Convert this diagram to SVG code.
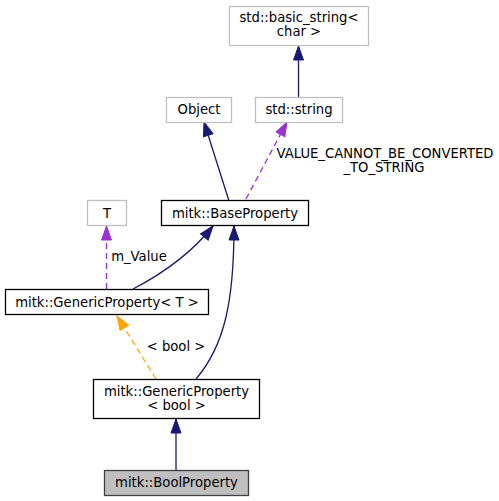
<svg xmlns="http://www.w3.org/2000/svg" width="499" height="501" viewBox="0 0 499 501">
<style>
text{font-family:"DejaVu Sans","Liberation Sans",sans-serif;font-size:13.2px;fill:#000;text-anchor:middle}
.ext rect{fill:#fff;stroke:#bfbfbf;stroke-width:1.3}
.doc rect{fill:#fff;stroke:#000;stroke-width:1.3}
.cur rect{fill:#bfbfbf;stroke:#404040;stroke-width:1.3}
.e{fill:none;stroke-width:1.3}
.nv{stroke:#191970}
.pu{stroke:#9a32cd;stroke-dasharray:6,4}
.or{stroke:#ffa500;stroke-dasharray:6,4}
</style>
<defs>
<marker id="aNv" markerUnits="userSpaceOnUse" markerWidth="16" markerHeight="12" viewBox="-1 -6 16 12" refX="14" refY="0" orient="auto"><path d="M0,-5 L14,0 L0,5 Z" fill="#191970" stroke="#191970"/></marker>
<marker id="aPu" markerUnits="userSpaceOnUse" markerWidth="16" markerHeight="12" viewBox="-1 -6 16 12" refX="14" refY="0" orient="auto"><path d="M0,-5 L14,0 L0,5 Z" fill="#9a32cd" stroke="#9a32cd"/></marker>
<marker id="aOr" markerUnits="userSpaceOnUse" markerWidth="16" markerHeight="12" viewBox="-1 -6 16 12" refX="14" refY="0" orient="auto"><path d="M0,-5 L14,0 L0,5 Z" fill="#ffa500" stroke="#ffa500"/></marker>
</defs>
<rect width="499" height="501" fill="#fff"/>
<g id="connectors">
<path class="e nv" d="M298.5,97 L298.5,46" marker-end="url(#aNv)"/>
<path class="e nv" d="M229,201 L204,122" marker-end="url(#aNv)"/>
<path class="e pu" d="M246,199 L287,122" marker-end="url(#aPu)"/>
<path class="e nv" d="M133,289 C160,275 190,255 213,226" marker-end="url(#aNv)"/>
<path class="e nv" d="M196,379 C225,345 234,300 234,226" marker-end="url(#aNv)"/>
<path class="e pu" d="M106.5,289 L106.5,226" marker-end="url(#aPu)"/>
<path class="e or" d="M156,379 L117,316" marker-end="url(#aOr)"/>
<path class="e nv" d="M176,470 L176,419" marker-end="url(#aNv)"/>
<text x="385" y="158">VALUE_CANNOT_BE_CONVERTED</text>
<text x="384" y="172">_TO_STRING</text>
<text x="139" y="261">m_Value</text>
<text x="176" y="351">&lt; bool &gt;</text>
</g>
<g id="basic_string" class="ext"><rect x="229.5" y="6.5" width="139" height="39"/><text x="299" y="21.5">std::basic_string&lt;</text><text x="299" y="36">char &gt;</text></g>
<g id="object" class="ext"><rect x="166.5" y="97.5" width="65" height="25"/><text x="199" y="114">Object</text></g>
<g id="std_string" class="ext"><rect x="255.5" y="97.5" width="87" height="25"/><text x="299" y="114">std::string</text></g>
<g id="base_property" class="doc"><rect x="161.5" y="200.5" width="147" height="25"/><text x="235" y="217.5">mitk::BaseProperty</text></g>
<g id="t" class="ext"><rect x="87.5" y="200.5" width="39" height="25"/><text x="107" y="217.5">T</text></g>
<g id="generic_t" class="doc"><rect x="5.5" y="289.5" width="203" height="25"/><text x="107" y="306.5">mitk::GenericProperty&lt; T &gt;</text></g>
<g id="generic_bool" class="doc"><rect x="93.5" y="379.5" width="166" height="39"/><text x="176.5" y="395.5">mitk::GenericProperty</text><text x="176.5" y="409.5">&lt; bool &gt;</text></g>
<g id="bool_property" class="cur"><rect x="104.5" y="470.5" width="144" height="25"/><text x="176.5" y="487">mitk::BoolProperty</text></g>
</svg>
